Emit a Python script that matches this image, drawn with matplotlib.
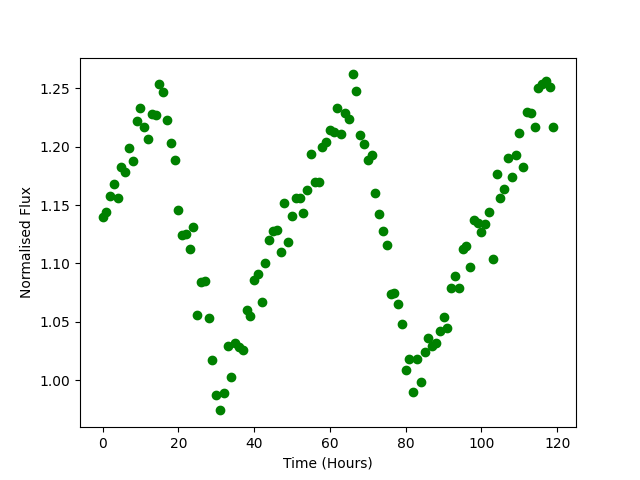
import numpy as np
import matplotlib
matplotlib.use("Agg")
import matplotlib.pyplot as plt

time_hours = np.arange(120)
flux = [1.140, 1.144, 1.158, 1.168, 1.156, 1.183, 1.178, 1.199, 1.188, 1.222,
        1.233, 1.217, 1.207, 1.228, 1.227, 1.254, 1.247, 1.223, 1.203, 1.189,
        1.146, 1.124, 1.125, 1.112, 1.131, 1.056, 1.084, 1.085, 1.053, 1.017,
        0.987, 0.974, 0.989, 1.029, 1.003, 1.032, 1.028, 1.026, 1.060, 1.055,
        1.086, 1.091, 1.067, 1.100, 1.120, 1.128, 1.129, 1.110, 1.152, 1.118,
        1.141, 1.156, 1.156, 1.143, 1.163, 1.194, 1.170, 1.170, 1.200, 1.204,
        1.214, 1.213, 1.233, 1.211, 1.229, 1.224, 1.262, 1.248, 1.210, 1.202,
        1.189, 1.193, 1.160, 1.142, 1.128, 1.116, 1.074, 1.075, 1.065, 1.048,
        1.009, 1.018, 0.990, 1.018, 0.998, 1.024, 1.036, 1.029, 1.032, 1.042,
        1.054, 1.045, 1.079, 1.089, 1.079, 1.112, 1.115, 1.097, 1.137, 1.135,
        1.127, 1.134, 1.144, 1.104, 1.177, 1.156, 1.164, 1.190, 1.174, 1.193,
        1.212, 1.183, 1.230, 1.229, 1.217, 1.250, 1.254, 1.256, 1.251, 1.217]

fig, ax = plt.subplots(figsize=(6.4, 4.8), dpi=100)
ax.plot(time_hours, flux, "go")
ax.set_xlabel("Time (Hours)")
ax.set_ylabel("Normalised Flux")
plt.savefig("out.png")
